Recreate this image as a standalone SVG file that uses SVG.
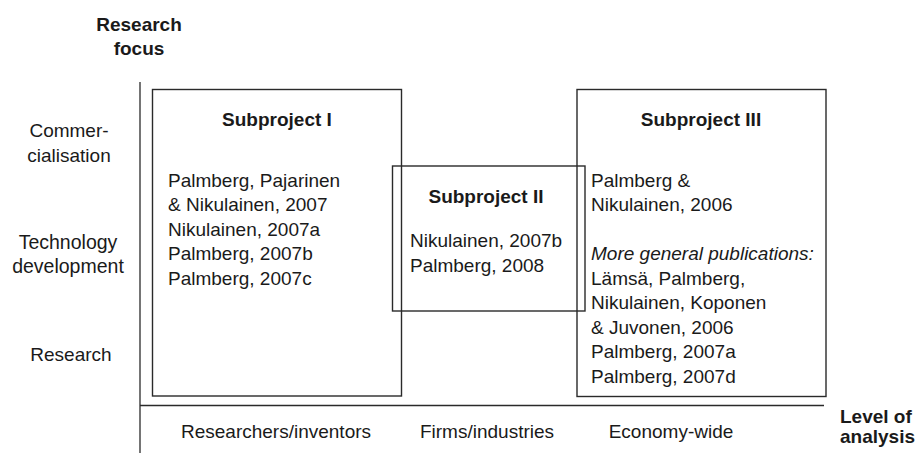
<svg xmlns="http://www.w3.org/2000/svg" width="916" height="453" viewBox="0 0 916 453">
<style>
text{font-family:"Liberation Sans",Arial,sans-serif;font-size:19px;fill:#1a1a1a}
.b{font-weight:bold}
.i{font-style:italic}
.m{text-anchor:middle}
.box{fill:none;stroke:#2a2a2a;stroke-width:1.4}
.ax{fill:none;stroke:#2a2a2a;stroke-width:1.3}
</style>
<rect width="916" height="453" fill="#fff"/>
<g id="axes">
<line class="ax" x1="140" y1="82" x2="140" y2="453"/>
<line class="ax" x1="140" y1="405.5" x2="824" y2="405.5"/>
</g>
<g id="y-title">
<text class="b m" x="139" y="31">Research</text>
<text class="b m" x="139" y="55">focus</text>
</g>
<g id="y-labels">
<text class="m" x="69" y="137">Commer-</text>
<text class="m" x="69" y="162">cialisation</text>
<text class="m" x="68" y="249" style="font-size:19.5px">Technology</text>
<text class="m" x="68" y="273" style="font-size:19.5px">development</text>
<text class="m" x="71" y="361">Research</text>
</g>
<g id="x-labels">
<text class="m" x="276" y="438">Researchers/inventors</text>
<text class="m" x="487" y="438">Firms/industries</text>
<text class="m" x="671" y="438">Economy-wide</text>
</g>
<g id="x-title">
<text class="b" x="840" y="423">Level of</text>
<text class="b" x="840" y="443">analysis</text>
</g>
<g id="subproject1">
<rect class="box" x="152.5" y="89.5" width="249" height="306.5"/>
<text class="b m" x="277" y="126">Subproject I</text>
<text x="168" y="186.7">Palmberg, Pajarinen</text>
<text x="168" y="211.2">&amp; Nikulainen, 2007</text>
<text x="168" y="235.7">Nikulainen, 2007a</text>
<text x="168" y="260.2">Palmberg, 2007b</text>
<text x="168" y="284.7">Palmberg, 2007c</text>
</g>
<g id="subproject2">
<rect class="box" x="392.5" y="166" width="192.5" height="145"/>
<text class="b m" x="486" y="203">Subproject II</text>
<text x="410" y="247">Nikulainen, 2007b</text>
<text x="410" y="272">Palmberg, 2008</text>
</g>
<g id="subproject3">
<rect class="box" x="577" y="89.5" width="249" height="307"/>
<text class="b m" x="701" y="126">Subproject III</text>
<text x="591" y="186.5">Palmberg &amp;</text>
<text x="591" y="211">Nikulainen, 2006</text>
<text class="i" x="591" y="260">More general publications:</text>
<text x="591" y="284.5">Lämsä, Palmberg,</text>
<text x="591" y="309">Nikulainen, Koponen</text>
<text x="591" y="333.5">&amp; Juvonen, 2006</text>
<text x="591" y="358">Palmberg, 2007a</text>
<text x="591" y="382.5">Palmberg, 2007d</text>
</g>
</svg>
